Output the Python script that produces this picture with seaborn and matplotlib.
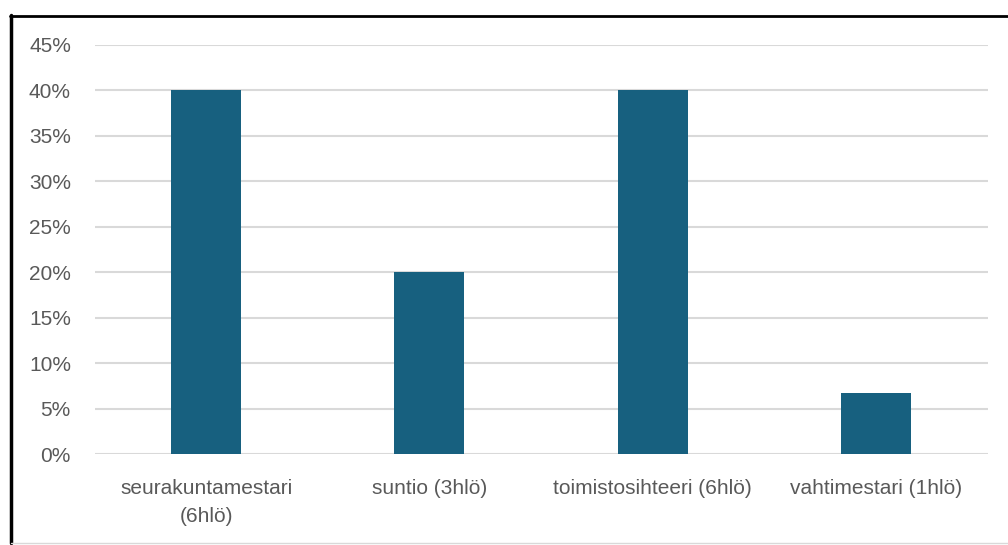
import matplotlib
matplotlib.use("Agg")
import matplotlib.pyplot as plt
from matplotlib.lines import Line2D
from matplotlib.ticker import FuncFormatter, MultipleLocator
import seaborn as sns
import pandas as pd

# Data
kategoriat = ["seurakuntamestari\n(6hlö)", "suntio (3hlö)", "toimistosihteeri (6hlö)", "vahtimestari (1hlö)"]
osuudet = [0.40, 0.20, 0.40, 0.0667]

df = pd.DataFrame({"kategoria": kategoriat, "osuus": osuudet})

sns.set_theme(style="white")
plt.rcParams["font.family"] = ["Liberation Sans", "DejaVu Sans"]

fig = plt.figure(figsize=(10.08, 5.45), dpi=100)
ax = fig.add_axes([94.5 / 1008, 1 - 454 / 545, (987.5 - 94.5) / 1008, (454 - 45) / 545])

sns.barplot(data=df, x="kategoria", y="osuus", color="#17607F", width=0.314,
            saturation=1, linewidth=0, ax=ax, zorder=3)

ax.set_ylim(0, 0.45)
ax.set_xlim(-0.5, 3.5)
ax.yaxis.set_major_locator(MultipleLocator(0.05))
ax.yaxis.set_major_formatter(FuncFormatter(lambda v, p: f"{v*100:.0f}%"))
ax.grid(axis="y", color="#D9D9D9", linewidth=1.5, zorder=0)
for s in ax.spines.values():
    s.set_visible(False)
ax.set_xlabel("")
ax.set_ylabel("")
ax.tick_params(axis="both", length=0, labelsize=15, colors="#595959")
ax.tick_params(axis="y", pad=17)
ax.tick_params(axis="x", pad=18)
for t in ax.get_xticklabels():
    t.set_linespacing(1.6)

# kehys
fig.add_artist(Line2D([11 / 1008, 11 / 1008], [1 - 15 / 545, 1 - 543 / 545], color="black", linewidth=2.5))
fig.add_artist(Line2D([10 / 1008, 1], [1 - 15.5 / 545, 1 - 15.5 / 545], color="black", linewidth=2))
fig.add_artist(Line2D([11 / 1008, 1], [1 - 543 / 545, 1 - 543 / 545], color="#D9D9D9", linewidth=1))

fig.savefig("out.png", dpi=100, facecolor="white")
